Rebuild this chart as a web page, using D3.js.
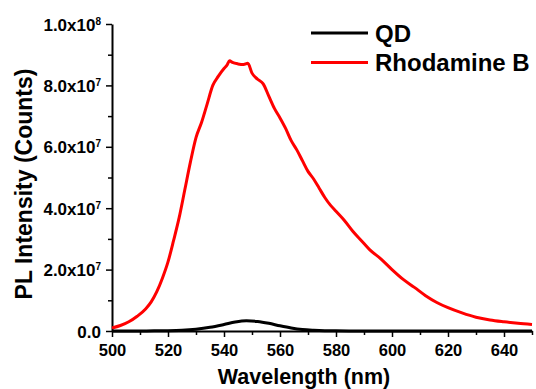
<!DOCTYPE html>
<html>
<head>
<meta charset="utf-8">
<script src="https://cdn.jsdelivr.net/npm/d3@7"></script>
<style>
  body { margin: 0; background: #fff; }
  text { font-family: "Liberation Sans", Arial, sans-serif; font-weight: bold; }
</style>
</head>
<body>
<script>
var w = 536;
var h = 389;

// wavelength (nm) and intensity (counts, x10^6)
var redWl  = [500,503,506,509,512,514,516,518,520,522,524,526,528,530,532,534,536,538,540,541,542,543,545,547,548.5,550,552,554,556,558,560,562,564,566,568,570,572,574,576,578,580,583,586,589,592,596,600,604,608,612,616,620,625,630,635,640,645,650];
var redVal = [1.0,1.8,3.0,4.8,7.2,9.5,12.8,17.2,22.5,29.5,37,46,55,63,68,74,80,83,85.5,86.5,88,87.5,87,86.8,87.2,84,82,80.5,76.5,72.5,69.4,66,62,59,55.5,52,49.5,46.5,43.5,41,39,36,32.5,29.5,26.5,23.5,20,16.8,14.2,11.5,9.3,7.6,5.9,4.5,3.6,3.0,2.5,2.1];
var qdWl  = [500,510,515,520,525,530,535,540,544,548,552,556,560,564,568,572,576,580,590,600,650];
var qdVal = [0,0.02,0.05,0.1,0.25,0.6,1.2,2.1,2.9,3.3,3.1,2.5,1.7,1.0,0.5,0.25,0.1,0.05,0.02,0.01,0];

var xTicks = [500,520,540,560,580,600,620,640];
var yTicks = [0,2e7,4e7,6e7,8e7,1e8];
var yTickLabels = ["0.0","2.0x10|7","4.0x10|7","6.0x10|7","8.0x10|7","1.0x10|8"];
var seriesNames = ["QD","Rhodamine B"];
var seriesColors = ["#000000","#ff0000"];

var x = d3.scaleLinear().domain([500,650]).range([112,532]);
var y = d3.scaleLinear().domain([0,1e8]).range([331,24]);

var svg = d3.select("body").append("svg")
    .attr("width", w)
    .attr("height", h);

// minor ticks
svg.append("g")
    .attr("transform", "translate(0,331)")
    .call(d3.axisBottom(x).tickValues(d3.range(510,651,20)).tickSize(4).tickFormat(""))
    .call(function(g){ g.select(".domain").remove(); })
    .selectAll("line").attr("stroke-width", 1.5);
svg.append("g")
    .attr("transform", "translate(112,0)")
    .call(d3.axisLeft(y).tickValues(d3.range(1e7,1e8,2e7)).tickSize(4).tickFormat(""))
    .call(function(g){ g.select(".domain").remove(); })
    .selectAll("line").attr("stroke-width", 1.5);

// major axes
var xAxis = svg.append("g")
    .attr("transform", "translate(0,331)")
    .call(d3.axisBottom(x).tickValues(xTicks).tickSize(6).tickSizeOuter(0).tickPadding(7));
var yAxis = svg.append("g")
    .attr("transform", "translate(112,0)")
    .call(d3.axisLeft(y).tickValues(yTicks).tickSize(6).tickSizeOuter(0).tickPadding(5)
      .tickFormat(function(d, i){ return yTickLabels[i]; }));

[xAxis, yAxis].forEach(function(a){
  a.select(".domain").attr("stroke-width", 2);
  a.selectAll("line").attr("stroke-width", 1.5);
  a.selectAll("text").attr("fill", "#000")
    .attr("font-family", "Liberation Sans, Arial, sans-serif").attr("font-weight", "bold");
});
xAxis.selectAll("text").attr("font-size", 16.5);
yAxis.selectAll("text").attr("font-size", 17);

// superscripts on y tick labels
yAxis.selectAll(".tick text").each(function(d, i){
  var parts = yTickLabels[i].split("|");
  var t = d3.select(this).text(parts[0]);
  if (parts.length > 1) {
    t.append("tspan").attr("dy", "-0.6em").attr("font-size", 10).text(parts[1]);
  }
});
yAxis.selectAll(".tick text").attr("dy", "0.36em");

// curves
var line = d3.line()
    .x(function(d){ return x(d[0]); })
    .y(function(d){ return y(d[1] * 1e6); })
    .curve(d3.curveMonotoneX);

var qdData = qdWl.map(function(v, i){ return [v, qdVal[i]]; });
var redData = redWl.map(function(v, i){ return [v, redVal[i]]; });

svg.append("path").datum(redData)
    .attr("d", line).attr("fill", "none")
    .attr("stroke", seriesColors[1]).attr("stroke-width", 3);
svg.append("path").datum(qdData)
    .attr("d", line).attr("fill", "none")
    .attr("stroke", seriesColors[0]).attr("stroke-width", 3);

// axis titles
svg.append("text")
    .attr("x", 304).attr("y", 384)
    .attr("text-anchor", "middle")
    .attr("font-size", 21.5)
    .text("Wavelength (nm)");
svg.append("text")
    .attr("transform", "translate(32,184) rotate(-90)")
    .attr("text-anchor", "middle")
    .attr("font-size", 23)
    .text("PL Intensity (Counts)");

// legend
var legend = svg.selectAll(".legend")
    .data(seriesNames)
    .enter().append("g")
    .attr("transform", function(d, i){ return "translate(311," + (33 + i * 29.5) + ")"; });
legend.append("line")
    .attr("x1", 0).attr("x2", 57).attr("y1", 0).attr("y2", 0)
    .attr("stroke", function(d, i){ return seriesColors[i]; })
    .attr("stroke-width", 3);
legend.append("text")
    .attr("x", 64).attr("y", 0).attr("dy", "0.36em")
    .attr("font-size", 24)
    .text(function(d){ return d; });
</script>
</body>
</html>
